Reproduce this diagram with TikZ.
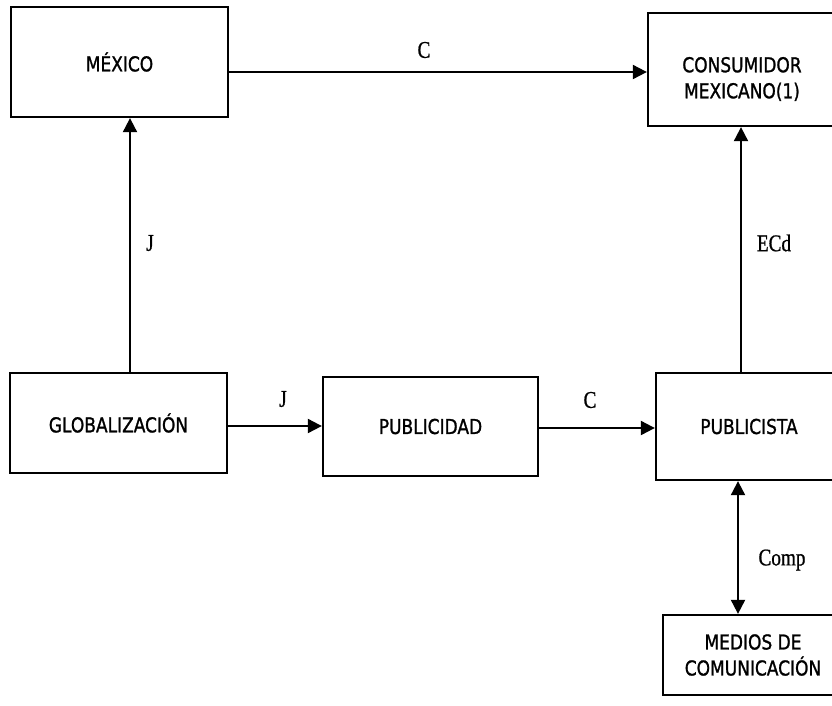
\documentclass[tikz,border=0pt]{standalone}
\usepackage{fontspec}
\newfontfamily\boxfont{DejaVu Sans}[FakeStretch=0.83, FakeBold=1.2]
\newfontfamily\labfont{Liberation Serif}[FakeStretch=0.8, FakeBold=0.8]
\usetikzlibrary{arrows.meta}
\tikzset{
  box/.style={draw, line width=2.3pt, inner sep=0pt, font=\boxfont\fontsize{20.5}{26}\selectfont, align=center},
  boxtext/.style={inner sep=0pt, font=\boxfont\fontsize{20.5}{26}\selectfont, align=center},
  arr/.style={line width=2pt, -{Triangle[length=14pt,width=14pt]}},
  dblarr/.style={line width=2pt, {Triangle[length=14pt,width=14pt]}-{Triangle[length=14pt,width=14pt]}},
  lab/.style={inner sep=0pt, font=\labfont\fontsize{24}{26}\selectfont}
}
\begin{document}
\begin{tikzpicture}[x=1pt,y=-1pt]
\useasboundingbox (0,0) rectangle (832,705);
\clip (0,0) rectangle (832,705);
\fill[white] (0,0) rectangle (832,705);
\node[box, minimum width=217pt, minimum height=110pt] (mex) at (119.5,62) {MÉXICO};
\node[box, minimum width=188pt, minimum height=113pt] (cons) at (742,69.5) {};
\node[boxtext] (consT) at (742,79) {CONSUMIDOR\\MEXICANO(1)};
\node[box, minimum width=217pt, minimum height=100pt] (glob) at (118.5,423) {GLOBALIZACIÓN};
\node[box, minimum width=215pt, minimum height=99pt] (pub) at (430.5,426.5) {PUBLICIDAD};
\node[box, minimum width=186pt, minimum height=107pt] (pta) at (749,426.5) {PUBLICISTA};
\node[box, minimum width=180pt, minimum height=80pt] (med) at (753,655) {MEDIOS DE\\COMUNICACIÓN};

\draw[arr] ([yshift=-10pt]mex.east) -- ([yshift=-10pt]mex.east -| cons.west);
\draw[arr] ([xshift=11.5pt]glob.north) -- ([xshift=11.5pt]glob.north |- mex.south);
\draw[arr] ([yshift=-3pt]glob.east) -- ([yshift=-3pt]glob.east -| pub.west);
\draw[arr] ([yshift=-1.5pt]pub.east) -- ([yshift=-1.5pt]pub.east -| pta.west);
\draw[arr] ([xshift=-8pt]pta.north) -- ([xshift=-8pt]pta.north |- cons.south);
\draw[dblarr] ([xshift=-11pt]pta.south) -- ([xshift=-11pt]pta.south |- med.north);

\node[lab] (l1) at (424,50) {C};
\node[lab] (l2) at (150,243) {J};
\node[lab] (l3) at (283,399) {J};
\node[lab] (l4) at (590,400) {C};
\node[lab] (l5) at (774,243) {ECd};
\node[lab] (l6) at (782,560) {Comp};
\end{tikzpicture}
\end{document}
